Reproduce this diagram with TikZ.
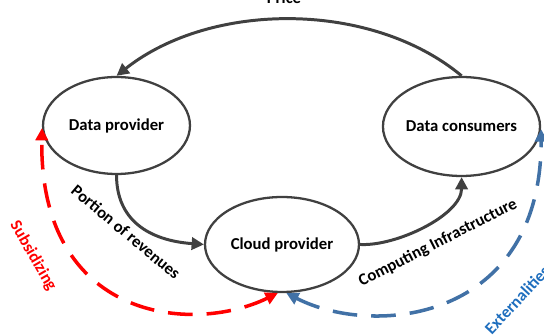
\documentclass[tikz,border=0pt]{standalone}
\usepackage{fontspec}
\setmainfont{Carlito}
\usetikzlibrary{arrows.meta,shapes.geometric}

\definecolor{linegray}{RGB}{64,64,64}
\definecolor{extblue}{RGB}{65,113,166}
\definecolor{exttext}{RGB}{30,110,190}

\tikzset{
  party/.style={draw=linegray, line width=1.3pt, ellipse, font=\bfseries\fontsize{9.5}{11}\selectfont},
  flow/.style={draw=linegray, line width=1.7pt, -{Triangle[length=7pt,width=7pt]}},
  side/.style={line width=2pt, dash pattern=on 14pt off 8pt, {Triangle[length=7pt,width=7pt]}-{Triangle[length=7pt,width=7pt]}},
  lbl/.style={font=\bfseries\fontsize{9.5}{11}\selectfont, inner sep=0pt}
}

\begin{document}
\begin{tikzpicture}[scale=0.02]
\clip (0,0) rectangle (544,335);
\useasboundingbox (0,0) rectangle (544,335);
\tikzstyle{every node}+=[inner sep=0pt]
% the three parties
\node [party, minimum width=2.94cm, minimum height=1.94cm] (provider) at (116.5,209.5) {Data provider};
\node [party, minimum width=2.98cm, minimum height=1.98cm] (consumers) at (461.5,208.5) {Data consumers};
\node [party, minimum width=3.08cm, minimum height=1.9cm] (cloud) at (282,90.5) {Cloud provider};
% money and services
\draw [flow] (consumers.north) .. controls +(-90,75) and +(95,75) .. (provider.north);
\node [lbl, anchor=base] (price) at (284,331) {Price};
\draw [flow] (provider.south) .. controls +(0,-45) and +(-55,4) .. (cloud.west);
\node [lbl, rotate=-40] (portion) at (126,103) {Portion of revenues};
\draw [flow] (cloud.east) .. controls +(36,-2) and +(0,-38) .. (consumers.south);
\node [lbl, rotate=27] (infra) at (438,92) {Computing Infrastructure};
% side effects
\draw [side, red] (cloud.265) .. controls +(-86,-42) and +(-3,-192) .. (provider.182);
\node [lbl, red, rotate=-60] (subsid) at (33,79) {Subsidizing};
\draw [side, extblue] (cloud.275) .. controls +(88,-45) and +(0,-192) .. (consumers.-2);
\node [lbl, exttext, rotate=47] (ext) at (517,35) {Externalities};
\end{tikzpicture}
\end{document}
